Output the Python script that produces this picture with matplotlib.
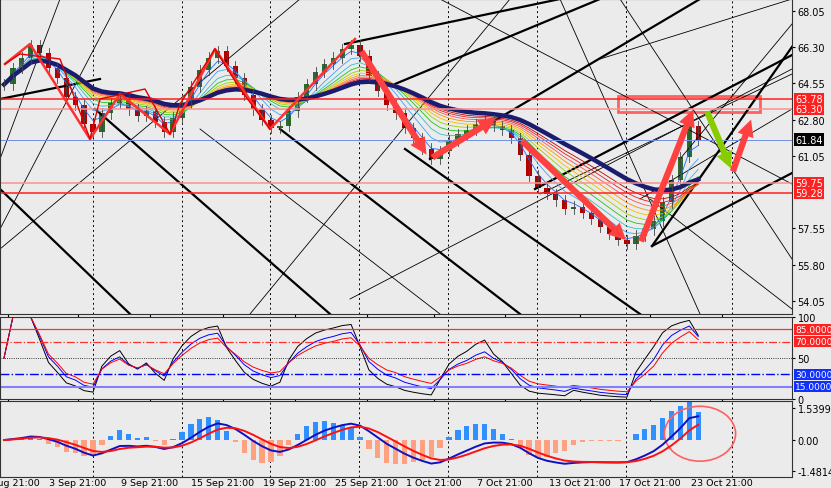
import matplotlib
matplotlib.use("Agg")
import matplotlib.pyplot as plt
import numpy as np
import pandas as pd
from matplotlib.patches import Rectangle, Ellipse

# ---- data ----
closes = [64.5,65.3,65.8,66.4,66.0,65.3,64.8,63.9,63.5,62.6,62.2,63.1,63.6,63.9,63.3,63.0,63.2,62.7,62.2,62.9,
          63.6,64.4,65.2,65.8,66.1,65.4,64.8,64.0,63.3,62.8,62.4,62.5,63.2,63.9,64.5,65.1,65.5,65.8,66.2,66.4,
          65.9,64.9,64.2,63.5,63.1,62.4,61.9,61.4,60.9,61.3,61.8,62.1,62.3,62.6,62.8,62.5,62.3,61.9,61.1,60.1,
          59.5,59.2,58.9,58.5,58.6,58.3,58.0,57.6,57.3,57.0,56.8,57.2,57.5,57.9,58.8,59.9,61.0,62.5,61.84]
tick_labels = ["28 Aug 21:00","3 Sep 21:00","9 Sep 21:00","15 Sep 21:00","19 Sep 21:00","25 Sep 21:00",
               "1 Oct 21:00","7 Oct 21:00","13 Oct 21:00","17 Oct 21:00","23 Oct 21:00"]
label_px = [8,78,150,223,295,367,434,505,580,650,722]
grid_px = [93,182,270,359,448,537,626,732]
price_ticks = [68.05,66.30,64.55,62.80,61.05,57.55,55.80,54.05]
levels_red = [63.78,59.28]
levels_pink = [63.30,59.75]
last_price = 61.84
macd_ticks = [1.5399,0.0,-1.4814]

# pixel-space annotation geometry (x px, y px) converted below
thick_lines = [((535,190),(794,55)),((652,247),(794,173)),((652,247),(794,45)),
               ((95,110),(330,315)),((280,130),(520,315)),((405,150),(640,315)),((0,190),(130,315)),
               ((345,45),(560,0)),((395,85),(600,0)),((430,160),(700,0)),((0,100),(100,80))]
thin_lines = [((0,160),(60,0)),((440,0),(792,185)),((0,230),(120,0)),((560,0),(700,315)),((600,60),(792,0)),
              ((640,200),(792,110)),((540,195),(792,75)),((620,0),(792,260)),((650,200),(792,310)),
              ((200,130),(440,315)),((0,250),(300,0)),((250,315),(510,0)),((350,300),(792,70)),((680,160),(792,25))]
zigzag = [(5,65),(30,45),(90,140),(120,95),(170,135),(215,50),(270,130),(355,40)]
zig2 = [(5,65),(20,55),(60,60),(90,140),(100,100),(145,90),(170,135),(180,105),(215,50),(240,90),(270,130)]
red_arrows = [((360,50),(428,158)),((430,160),(498,118)),((520,140),(628,243)),((640,245),(694,108)),((732,175),(752,118))]
green_arrows = [((706,110),(732,172))]

def slot(x): return (x-4)/8.9
def price(y): return 68.05-(y-12)/20.7
def cv(p): return slot(p[0]), price(p[1])

bg = "#ebebeb"
fig = plt.figure(figsize=(8.31,4.89), dpi=100, facecolor=bg)
L, W = 0.0, 792/831
ax = fig.add_axes([L, 1-315/489, W, 315/489], facecolor=bg)
ax2 = fig.add_axes([L, 1-400/489, W, 82/489], facecolor=bg)
ax3 = fig.add_axes([L, 1-478/489, W, 76/489], facecolor=bg)
xlim = (slot(0), slot(792))
for a in (ax, ax2, ax3):
    a.set_xlim(*xlim)
    a.yaxis.tick_right()
    a.set_xticks([slot(p) for p in label_px])
    for g in grid_px:
        a.axvline(slot(g), color="black", ls=(0,(2,3)), lw=0.7, zorder=0)
    a.tick_params(labelsize=7, length=2, pad=2)
    for s in a.spines.values(): s.set_color("#333333")
ax.set_xticklabels([]); ax2.set_xticklabels([])
ax3.set_xticklabels(tick_labels)
ax3.tick_params(axis="x", length=0, pad=1, labelsize=6.8)

c = np.array(closes); n = len(c); xs = np.arange(n)
s = pd.Series(c)
for p1,p2 in thin_lines:
    (x1,y1),(x2,y2) = cv(p1),cv(p2); ax.plot([x1,x2],[y1,y2],color="black",lw=0.6)
for p1,p2 in thick_lines:
    (x1,y1),(x2,y2) = cv(p1),cv(p2); ax.plot([x1,x2],[y1,y2],color="black",lw=1.6)
cols = ["#1f6fff","#40a0ff","#30c0c0","#20c020","#9ad000","#f0c000","#ff9000","#ff5050","#e02020","#c00000"]
for i,col in enumerate(cols):
    ax.plot(xs, s.ewm(span=3+i*2).mean(), color=col, lw=0.6)
ax.plot(xs, s.ewm(span=26).mean(), color="#1c1c6e", lw=3.2)
opens = np.r_[c[0], c[:-1]]
for i in range(n):
    o, cl = opens[i], c[i]
    col = "#2a6a2a" if cl >= o else "#b00000"
    ax.plot([i,i],[min(o,cl)-0.25,max(o,cl)+0.25], color="#444444", lw=0.6)
    ax.add_patch(Rectangle((i-0.3,min(o,cl)),0.6,max(abs(cl-o),0.03),color=col,lw=0))
for v in levels_red: ax.axhline(v, color="#ff2020", lw=1.1)
for v in levels_pink: ax.axhline(v, color="#ff9090", lw=1.1)
ax.axhline(last_price, color="#7090e0", lw=0.7)
r0,r1 = cv((618,97)),cv((760,113))
ax.add_patch(Rectangle((r0[0],r1[1]),r1[0]-r0[0],r0[1]-r1[1],fill=False,ec="#ff6060",lw=2))
zx,zy = zip(*[cv(p) for p in zigzag]); ax.plot(zx,zy,color="#ff3030",lw=1.8)
zx,zy = zip(*[cv(p) for p in zig2]); ax.plot(zx,zy,color="#e00000",lw=1.0)
def arrow(p1,p2,col):
    (x1,y1),(x2,y2)=cv(p1),cv(p2)
    ax.annotate("",xy=(x2,y2),xytext=(x1,y1),arrowprops=dict(arrowstyle="simple,head_width=1.2,head_length=1.2,tail_width=0.45",color=col,lw=0))
for p1,p2 in red_arrows: arrow(p1,p2,"#ff4040")
for p1,p2 in green_arrows: arrow(p1,p2,"#88cc00")
ax.set_ylim(price(315), price(0))
ax.set_yticks(price_ticks)
ax.set_yticklabels([f"{v:.2f}" for v in price_ticks])
def box(a,y,txt,fc,tc="white",fs=7):
    a.text(1.004,y,txt,transform=a.get_yaxis_transform(),fontsize=fs,color=tc,va="center",ha="left",
           bbox=dict(boxstyle="square,pad=0.12",fc=fc,ec="none"))
for v in levels_red+levels_pink: box(ax,v,f"{v:.2f}","#ff2020")
box(ax,last_price,f"{last_price:.2f}","black")

def rsi(series, p):
    d = series.diff().fillna(0)
    up = d.clip(lower=0).ewm(alpha=1/p).mean(); dn = (-d.clip(upper=0)).ewm(alpha=1/p).mean()
    r = 100 - 100/(1+up/(dn+1e-9))
    r.iloc[0] = 50
    return r
ax2.plot(xs, rsi(s,4), color="black", lw=0.7)
ax2.plot(xs, rsi(s,6), color="blue", lw=0.7)
ax2.plot(xs, rsi(s,8), color="red", lw=0.7)
ax2.axhline(85,color="#ff3030",lw=0.9); ax2.axhline(70,color="#ff3030",lw=0.9,ls="-.")
ax2.axhline(50,color="black",lw=0.6,ls=":"); ax2.axhline(30,color="blue",lw=1.0,ls="-.")
ax2.axhline(15,color="#8080ff",lw=1.5)
ax2.set_ylim(0,100); ax2.set_yticks([0,50,100]); ax2.set_yticklabels(["0","50","100"])
for v,fc in [(85,"#ff2020"),(70,"#ff2020"),(30,"#1030ff"),(15,"#1030ff")]:
    box(ax2,v,f"{v}.0000",fc,fs=6.5)

macd = s.ewm(span=5).mean()-s.ewm(span=12).mean()
sig = macd.ewm(span=4).mean()
hist = (macd - sig)*3.3
ax3.bar(xs, hist, width=0.6, color=np.where(hist>=0,"#3090ff","#ffa080"))
ax3.plot(xs, macd, color="#1010c0", lw=1.4); ax3.plot(xs, sig, color="#ff1010", lw=1.4)
ax3.add_patch(Ellipse((slot(700),0.3),8,2.6,fill=False,ec="#ff6060",lw=1.2))
ax3.set_ylim(-1.75,1.85); ax3.set_yticks(macd_ticks)
ax3.set_yticklabels(["1.5399","0.00","-1.4814"])
fig.savefig("out.png", dpi=100, facecolor=bg)
